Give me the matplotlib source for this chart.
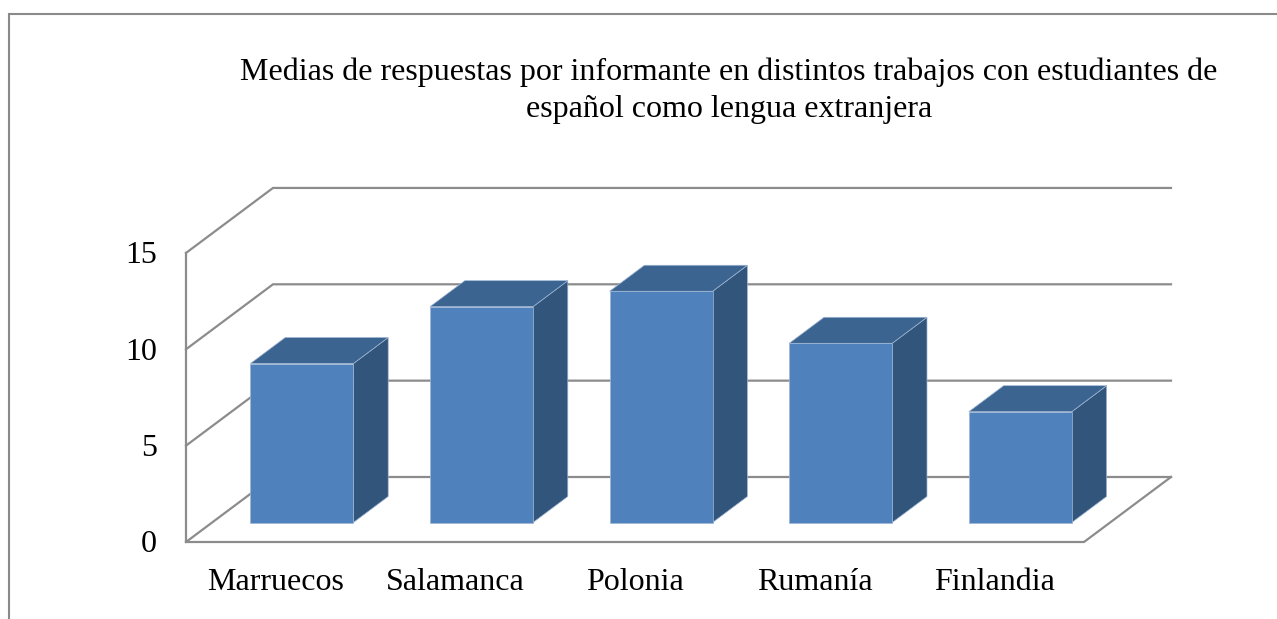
import matplotlib.pyplot as plt
from matplotlib.patches import Polygon, Rectangle

# data
categories = ['Marruecos', 'Salamanca', 'Polonia', 'Rumanía', 'Finlandia']
values = [8.25, 11.2, 12.0, 9.3, 5.75]
y_ticks = [0, 5, 10, 15]
title = ('Medias de respuestas por informante en distintos trabajos con estudiantes de\n'
         'español como lengua extranjera')

# layout (pixels) for the oblique 3-D look
W, H = 1277, 619
ORIGIN = (186, 542)          # front-left floor corner
CAT_PX = 179.6               # width of one category
VAL_PX = 19.27               # pixels per value unit
DX = 87 / CAT_PX             # depth offset in category units
DY = 65 / VAL_PX             # depth offset in value units
BAR_W = 0.5735
D0, D1 = 0.3, 0.7            # bar depth range

FRONT = '#4f81bd'
TOP = '#3b6491'
SIDE = '#32557b'
GRID = '#8c8c8c'
FS = 23

plt.rcParams['font.family'] = ['Liberation Serif', 'DejaVu Serif']

fig = plt.figure(figsize=(W / 100, H / 100), dpi=100)
ax = fig.add_axes([0, 0, 1, 1])
ax.set_xlim(-ORIGIN[0] / CAT_PX, (W - ORIGIN[0]) / CAT_PX)
ax.set_ylim(-(H - ORIGIN[1]) / VAL_PX, ORIGIN[1] / VAL_PX)
ax.axis('off')

n = len(categories)
vmax = y_ticks[-1]

# back wall gridlines + left wall diagonals
for v in y_ticks:
    ax.plot([0, DX, n + DX], [v, v + DY, v + DY], color=GRID, lw=1.6,
            solid_joinstyle='miter', zorder=1)
# left wall front edge, floor front edge and right floor edge
ax.plot([0, 0, n, n + DX], [vmax, 0, 0, DY], color=GRID, lw=1.6,
        solid_joinstyle='miter', zorder=1)

# bars
for i, v in enumerate(values):
    x0 = i + 0.5 - BAR_W / 2
    x1 = x0 + BAR_W
    front = [(x0 + D0 * DX, D0 * DY), (x1 + D0 * DX, D0 * DY),
             (x1 + D0 * DX, v + D0 * DY), (x0 + D0 * DX, v + D0 * DY)]
    top = [(x0 + D0 * DX, v + D0 * DY), (x1 + D0 * DX, v + D0 * DY),
           (x1 + D1 * DX, v + D1 * DY), (x0 + D1 * DX, v + D1 * DY)]
    side = [(x1 + D0 * DX, D0 * DY), (x1 + D1 * DX, D1 * DY),
            (x1 + D1 * DX, v + D1 * DY), (x1 + D0 * DX, v + D0 * DY)]
    for pts, c in ((side, SIDE), (top, TOP), (front, FRONT)):
        ax.add_patch(Polygon(pts, closed=True, facecolor=c, edgecolor='#9fb6d4',
                             lw=0.5, zorder=3))

# tick labels
for v in y_ticks:
    ax.text(-29 / CAT_PX, v - 3 / VAL_PX, str(v), ha='right', va='center', fontsize=FS)
for i, c in enumerate(categories):
    ax.text(i + 0.5, -40 / VAL_PX, c, ha='center', va='center', fontsize=FS)

fig.text(729 / W, 1 - 91 / H, title, ha='center', va='center',
         multialignment='center', fontsize=FS, linespacing=1.35)

# chart border
fig.patches.append(Rectangle((9 / W, -0.1), 1.2, 1 - 14 / H + 0.1,
                             transform=fig.transFigure, fill=False,
                             edgecolor='#8a8a8a', lw=1.5))

fig.savefig('out.png', dpi=100)
